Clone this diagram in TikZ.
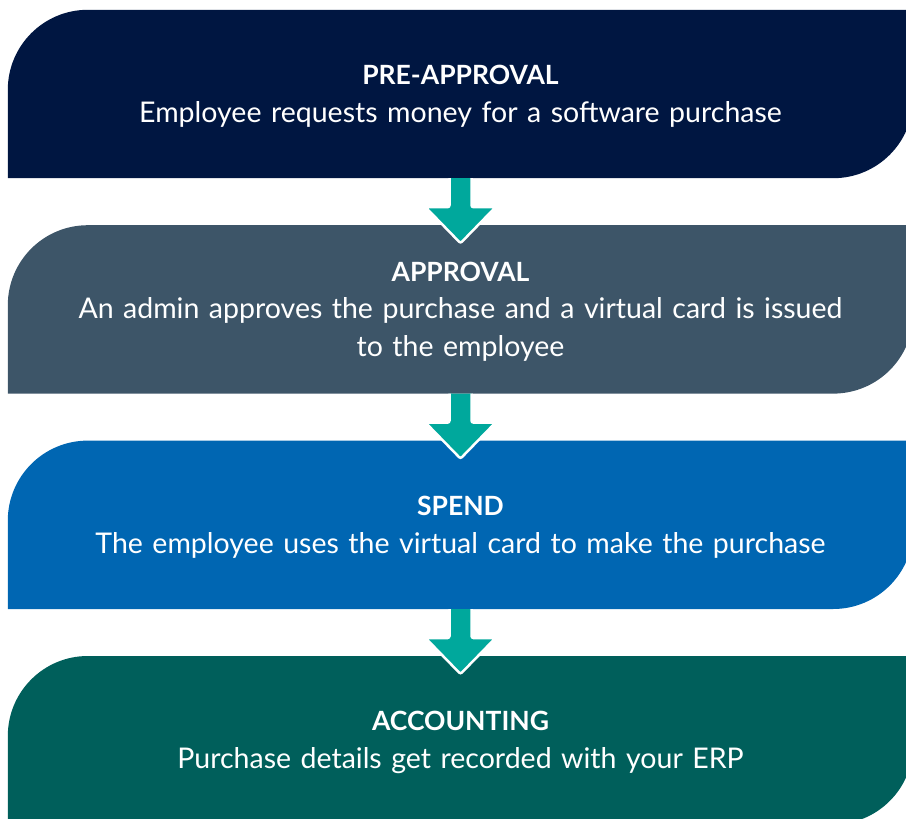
\documentclass[tikz,border=0pt]{standalone}
\usepackage{fontspec}
\setmainfont{Lato}
\usepackage{xcolor}
\usepackage{tikz}
\usetikzlibrary{positioning, backgrounds}
\definecolor{navybox}{HTML}{001641}
\definecolor{slatebox}{HTML}{3D5568}
\definecolor{bluebox}{HTML}{0066B2}
\definecolor{greenbox}{HTML}{005F5B}
\definecolor{tealarrow}{HTML}{00A89C}
\tikzstyle{stage} = [rectangle, minimum width=905pt, minimum height=168pt, inner sep=0pt, text width=850pt, align=center, text=white, font=\fontsize{28.5}{37.5}\selectfont]
\tikzstyle{flowarrow} = [fill=tealarrow, draw=white, line width=2.5pt, rounded corners=2pt]
\newcommand{\titletext}[1]{\rule{0pt}{24pt}{\fontsize{26.5}{37.5}\selectfont\bfseries #1}}
% box with rounded top-left and bottom-right corners
\newcommand{\stagebox}[2]{%
  \fill[#2] (#1.south west) -- ([yshift=-80pt]#1.north west) arc[start angle=180, end angle=90, radius=80pt] -- (#1.north east) -- ([yshift=80pt]#1.south east) arc[start angle=0, end angle=-90, radius=80pt] -- cycle;}
% arrow from one box down to the next
\newcommand{\stagearrow}[2]{%
  \filldraw[flowarrow] ([xshift=-11pt]#1.south) -- ++(0,29) -- ++(-24,0) -- ([yshift=-18pt]#2.north) -- ++(35,-36) -- ++(-24,0) -- ([xshift=11pt]#1.south);}

\begin{document}
\begin{tikzpicture}[x=1pt, y=-1pt, node distance=47pt]
\useasboundingbox (0,0) rectangle (906,819);

% Nodes for the four stages
\node (preapproval) [stage] at (460.5,94) {\titletext{PRE-APPROVAL}\\Employee requests money for a software purchase};
\node (approval) [stage, below=of preapproval] {\titletext{APPROVAL}\\An admin approves the purchase and a virtual card is issued\\to the employee};
\node (spend) [stage, below=of approval] {\titletext{SPEND}\\The employee uses the virtual card to make the purchase};
\node (accounting) [stage, below=of spend] {\titletext{ACCOUNTING}\\Purchase details get recorded with your ERP};

\begin{pgfonlayer}{background}
% Box shapes behind the text
\stagebox{preapproval}{navybox}
\stagebox{approval}{slatebox}
\stagebox{spend}{bluebox}
\stagebox{accounting}{greenbox}

% Arrows between the stages
\stagearrow{preapproval}{approval}
\stagearrow{approval}{spend}
\stagearrow{spend}{accounting}
\end{pgfonlayer}

\end{tikzpicture}
\end{document}
